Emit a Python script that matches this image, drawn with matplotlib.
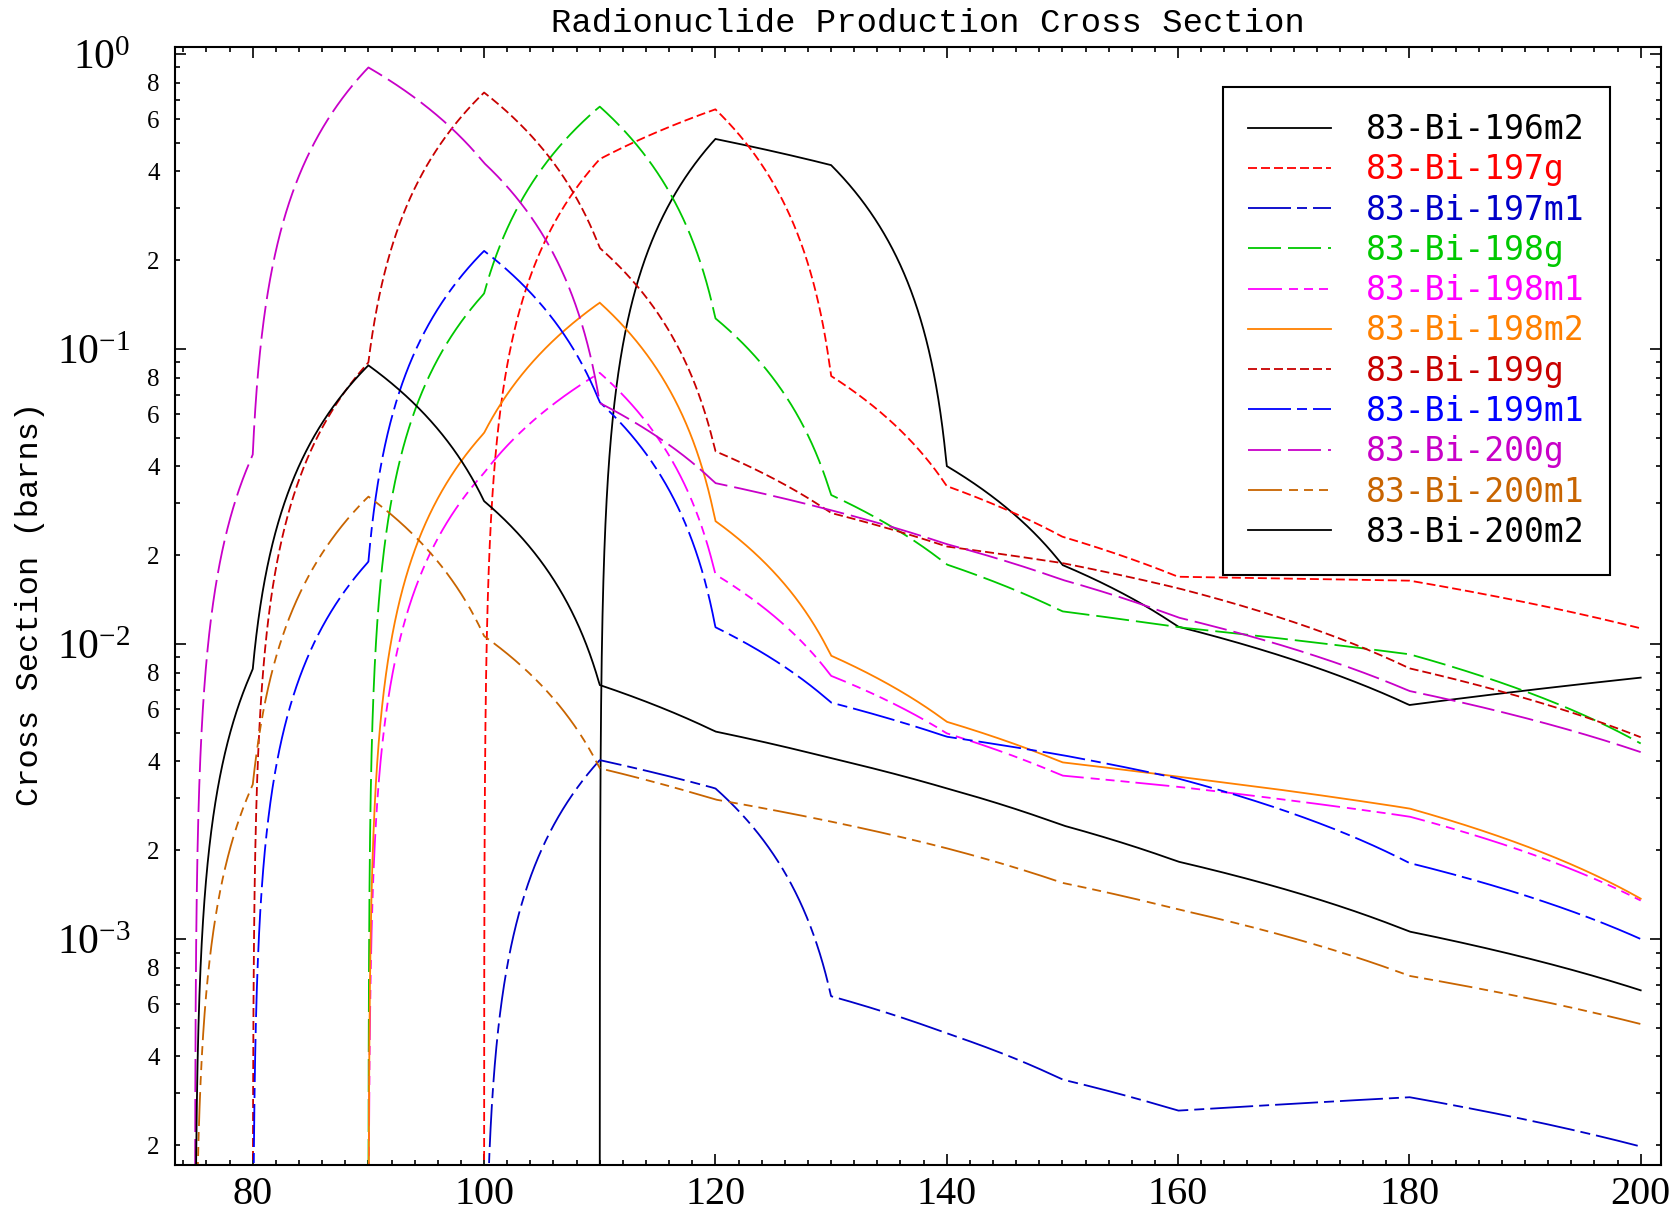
import numpy as np
import matplotlib
matplotlib.use("Agg")
import matplotlib.pyplot as plt
from matplotlib.ticker import MultipleLocator, LogLocator, FuncFormatter

# ---------------- data (cross sections in barns) ----------------
energy = [75, 80, 90, 100, 110, 120, 130, 140, 150, 160, 180, 200]

labels = ["83-Bi-196m2", "83-Bi-197g", "83-Bi-197m1", "83-Bi-198g", "83-Bi-198m1",
          "83-Bi-198m2", "83-Bi-199g", "83-Bi-199m1", "83-Bi-200g", "83-Bi-200m1",
          "83-Bi-200m2"]

bi196m2 = [0, 0, 0, 0, 0, 0.515, 0.42, 0.0401, 0.01853, 0.01145, 0.00621, 0.00769]
bi197g = [0, 0, 0, 0, 0.44, 0.649, 0.081, 0.0343, 0.0231, 0.0169, 0.0164, 0.0113]
bi197m1 = [0, 0, 0, 0, 0.00404, 0.00324, 0.00064, 0.000479, 0.000334, 0.000262, 0.000291, 0.000198]
bi198g = [0, 0, 0, 0.154, 0.663, 0.127, 0.032, 0.0186, 0.0129, 0.0114, 0.00923, 0.0046]
bi198m1 = [0, 0, 0, 0.038, 0.083, 0.0172, 0.0078, 0.00498, 0.00358, 0.00328, 0.0026, 0.00135]
bi198m2 = [0, 0, 0, 0.0519, 0.1435, 0.0261, 0.00913, 0.00545, 0.00397, 0.00355, 0.00277, 0.00137]
bi199g = [0, 0, 0.090, 0.74, 0.22, 0.045, 0.0278, 0.0214, 0.0188, 0.01545, 0.00827, 0.00483]
bi199m1 = [0, 0, 0.019, 0.215, 0.066, 0.0114, 0.00633, 0.00485, 0.0042, 0.0035, 0.00181, 0.001]
bi200g = [0, 0.0437, 0.90, 0.427, 0.0656, 0.0351, 0.0284, 0.0218, 0.0165, 0.0123, 0.00693, 0.0043]
bi200m1 = [0, 0.00333, 0.0316, 0.01064, 0.00379, 0.00297, 0.0025, 0.00203, 0.00155, 0.00126, 0.00075, 0.000515]
bi200m2 = [0, 0.0082, 0.088, 0.0305, 0.00726, 0.00505, 0.0041, 0.00324, 0.00243, 0.00183, 0.00106, 0.00067]

series = [bi196m2, bi197g, bi197m1, bi198g, bi198m1, bi198m2,
          bi199g, bi199m1, bi200g, bi200m1, bi200m2]

colors = ["#000000", "#FF0000", "#0000C8", "#00C800", "#FF00FF", "#FF8000",
          "#C80000", "#0000FF", "#C800C8", "#C86400", "#000000"]

PX = 0.72  # pixels -> points at dpi 100
styles = [
    None,                                         # solid
    [9 * PX, 4 * PX],                             # dashed
    [43 * PX, 6 * PX, 10 * PX, 6 * PX],           # dash-dot
    [33 * PX, 7 * PX],                            # long dashes
    [34 * PX, 7 * PX, 9 * PX, 6 * PX, 9 * PX, 6 * PX, 9 * PX, 6 * PX],  # dash-dot-dot-dot
]

# ---------------- figure ----------------
plt.rcParams["lines.scale_dashes"] = False
plt.rcParams["mathtext.fontset"] = "custom"
plt.rcParams["mathtext.rm"] = "Liberation Serif"
plt.rcParams["mathtext.it"] = "Liberation Serif"
plt.rcParams["mathtext.bf"] = "Liberation Serif"

W, H = 1676, 1211
fig = plt.figure(figsize=(W / 100, H / 100), dpi=100)
ax_l, ax_r, ax_t, ax_b = 175, 1660.7, 46.7, 1165
ax = fig.add_axes([ax_l / W, 1 - ax_b / H, (ax_r - ax_l) / W, (ax_b - ax_t) / H])
ax.set_yscale("log", nonpositive="mask")

e_arr = np.asarray(energy, dtype=float)
# sampling positions used to draw the lin-lin interpolation of the original plot
# (uniform plus extra fine steps at the start of every interval so thresholds reach the axis)
frac = np.union1d(np.linspace(0.0, 1.0, 2001), np.logspace(-7, 0, 300))
ef = np.unique(np.concatenate([a + (b - a) * frac for a, b in zip(e_arr[:-1], e_arr[1:])]))

handles = []
for i, (vals, lab, col) in enumerate(zip(series, labels, colors)):
    sf = np.interp(ef, e_arr, np.asarray(vals, dtype=float))
    (ln,) = ax.plot(ef, sf, color=col, lw=1.3, label=lab, solid_joinstyle="miter")
    st = styles[i % 5]
    if st is not None:
        ln.set_dashes(st)
    handles.append(ln)

ax.set_xlim(73.28, 201.73)
ax.set_ylim(1.714e-4, 1.058)

# ticks
for s in ax.spines.values():
    s.set_linewidth(1.5)
ax.xaxis.set_major_locator(MultipleLocator(20))
ax.xaxis.set_minor_locator(MultipleLocator(2))
ax.yaxis.set_major_locator(LogLocator(base=10, numticks=20))
ax.yaxis.set_minor_locator(LogLocator(base=10, subs=np.arange(2, 10), numticks=20))
ax.tick_params(which="both", direction="in", top=True, right=True, width=1.2)
ax.tick_params(which="major", length=8)
ax.tick_params(which="minor", length=3.5)
ax.tick_params(axis="x", which="major", pad=8, labelsize=29)
ax.tick_params(axis="y", which="major", pad=32, labelsize=30)
ax.tick_params(axis="y", which="minor", pad=11, labelsize=18)


def major_fmt(v, pos):
    return r"$10^{%d}$" % int(round(np.log10(v)))


def minor_fmt(v, pos):
    m = v / 10 ** np.floor(np.log10(v) + 1e-9)
    mi = int(round(m))
    return str(mi) if mi in (2, 4, 6, 8) else ""


ax.yaxis.set_major_formatter(FuncFormatter(major_fmt))
ax.yaxis.set_minor_formatter(FuncFormatter(minor_fmt))
for t in ax.get_xticklabels() + ax.get_yticklabels(which="both"):
    t.set_fontfamily("Liberation Serif")

# title and axis label
fig.text(928 / W, 1 - 32 / H, "Radionuclide Production Cross Section",
         ha="center", va="baseline", fontsize=24.4, family="Liberation Mono")
fig.text(30 / W, 1 - 604 / H, "Cross Section (barns)", rotation=90,
         ha="center", va="center", fontsize=23, family="Liberation Mono")

# legend
fs = 23.8
leg = ax.legend(handles, labels, loc="upper left",
                bbox_to_anchor=(1222.7 / W, 1 - 87.3 / H), bbox_transform=fig.transFigure,
                borderaxespad=0, prop={"family": "DejaVu Sans Mono", "size": fs},
                handlelength=2.5, handletextpad=1.05, labelspacing=0.22,
                borderpad=0.78, fancybox=False, framealpha=1, edgecolor="black")
leg.get_frame().set_linewidth(1.5)
for txt, col in zip(leg.get_texts(), colors):
    txt.set_color(col)

fig.savefig("out.png", dpi=100)
